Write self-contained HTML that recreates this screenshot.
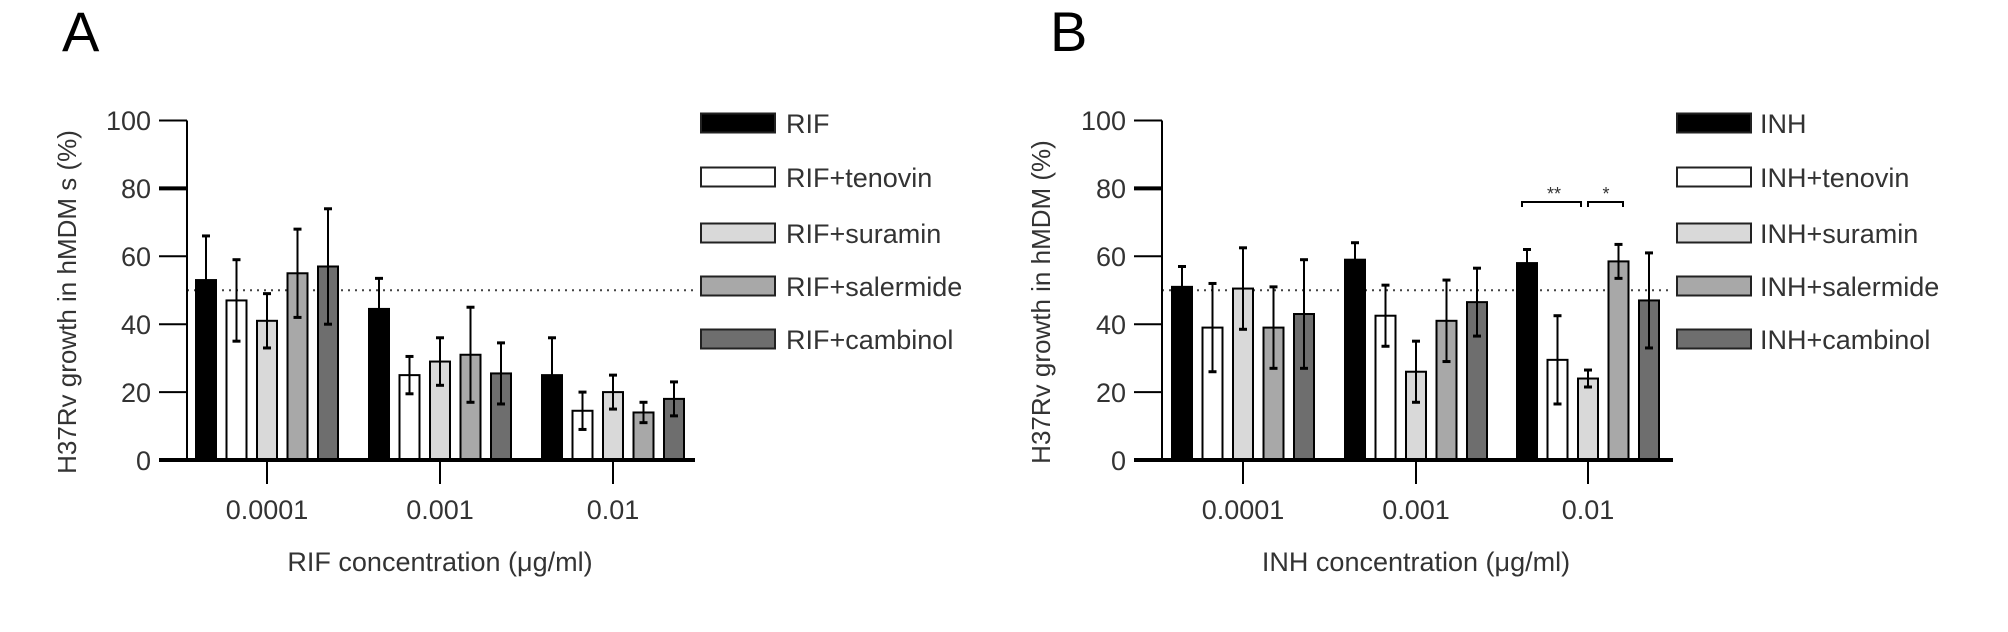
<!DOCTYPE html>
<html><head><meta charset="utf-8"><style>
html,body{margin:0;padding:0;background:#fff;}
svg{display:block;font-family:"Liberation Sans",sans-serif;}
</style></head><body>
<svg id="s" width="2008" height="632" viewBox="0 0 2008 632" xmlns="http://www.w3.org/2000/svg">
<rect width="2008" height="632" fill="#fff"/>
<text x="62" y="51" font-size="56">A</text>
<text x="1050" y="51" font-size="56">B</text>
<g id="bars"></g>
<g font-size="27" fill="#333">
<text x="151" y="130" text-anchor="end">100</text>
<text x="151" y="198" text-anchor="end">80</text>
<text x="151" y="266" text-anchor="end">60</text>
<text x="151" y="334" text-anchor="end">40</text>
<text x="151" y="402" text-anchor="end">20</text>
<text x="151" y="470" text-anchor="end">0</text>
<text x="267" y="519" text-anchor="middle">0.0001</text>
<text x="440" y="519" text-anchor="middle">0.001</text>
<text x="613" y="519" text-anchor="middle">0.01</text>
<text x="440" y="571" text-anchor="middle">RIF concentration (μg/ml)</text>
<text transform="translate(76,302) rotate(-90)" text-anchor="middle" font-size="26">H37Rv  growth in hMDM s  (%)</text>
<text x="786" y="133">RIF</text>
<text x="786" y="187">RIF+tenovin</text>
<text x="786" y="243">RIF+suramin</text>
<text x="786" y="296">RIF+salermide</text>
<text x="786" y="349">RIF+cambinol</text>
<text x="1126" y="130" text-anchor="end">100</text>
<text x="1126" y="198" text-anchor="end">80</text>
<text x="1126" y="266" text-anchor="end">60</text>
<text x="1126" y="334" text-anchor="end">40</text>
<text x="1126" y="402" text-anchor="end">20</text>
<text x="1126" y="470" text-anchor="end">0</text>
<text x="1243" y="519" text-anchor="middle">0.0001</text>
<text x="1416" y="519" text-anchor="middle">0.001</text>
<text x="1588" y="519" text-anchor="middle">0.01</text>
<text x="1416" y="571" text-anchor="middle">INH concentration (μg/ml)</text>
<text transform="translate(1050,302) rotate(-90)" text-anchor="middle" font-size="26">H37Rv  growth in hMDM  (%)</text>
<text x="1760" y="133">INH</text>
<text x="1760" y="187">INH+tenovin</text>
<text x="1760" y="243">INH+suramin</text>
<text x="1760" y="296">INH+salermide</text>
<text x="1760" y="349">INH+cambinol</text>
<text x="1554" y="200" text-anchor="middle" font-size="18">**</text>
<text x="1606" y="200" text-anchor="middle" font-size="18">*</text>
</g>
<path d="M1522,207 V202 H1581 V207 M1588,207 V202 H1623 V207" fill="none" stroke="#000" stroke-width="2"/>
</svg>
<script>
var g=document.getElementById('bars'),ns='http://www.w3.org/2000/svg';
function el(t,a){var e=document.createElementNS(ns,t);for(var k in a)e.setAttribute(k,a[k]);g.appendChild(e);return e;}
var cols=['#000','#fff','#d9d9d9','#a8a8a8','#6e6e6e'];
function Y(v){return 460-3.395*v;}
function panel(ax,xr,centers,data,legX){
  el('line',{x1:ax,y1:Y(50),x2:xr,y2:Y(50),stroke:'#444','stroke-width':2,'stroke-dasharray':'2,5'});
  for(var gi=0;gi<3;gi++){for(var k=0;k<5;k++){
    var c=centers[gi]+(k-2)*30.5,v=data[gi][k][0],e=data[gi][k][1];
    el('rect',{x:c-10,y:Y(v),width:20,height:460-Y(v),fill:cols[k],stroke:'#000','stroke-width':2});
    el('line',{x1:c,y1:Y(v+e),x2:c,y2:Y(v-e),stroke:'#000','stroke-width':2});
    el('line',{x1:c-4,y1:Y(v+e),x2:c+4,y2:Y(v+e),stroke:'#000','stroke-width':3});
    el('line',{x1:c-4,y1:Y(v-e),x2:c+4,y2:Y(v-e),stroke:'#000','stroke-width':3});
  }
  el('line',{x1:centers[gi],y1:460,x2:centers[gi],y2:484,stroke:'#000','stroke-width':2});}
  el('line',{x1:ax,y1:Y(100),x2:ax,y2:460,stroke:'#000','stroke-width':2});
  for(var t=0;t<=100;t+=20)el('line',{x1:ax-28,y1:Y(t),x2:ax,y2:Y(t),stroke:'#000','stroke-width':t==80?4:2});
  el('line',{x1:ax-28,y1:460,x2:xr,y2:460,stroke:'#000','stroke-width':4});
  var ly=[123,177,233,286,339];
  for(var k=0;k<5;k++)el('rect',{x:legX,y:ly[k]-9.5,width:74,height:19,fill:cols[k],stroke:'#222','stroke-width':2});
}
panel(187,695,[267,440,613],[
 [[53,13],[47,12],[41,8],[55,13],[57,17]],
 [[44.5,9],[25,5.5],[29,7],[31,14],[25.5,9]],
 [[25,11],[14.5,5.5],[20,5],[14,3],[18,5]]],701);
panel(1162,1673,[1243,1416,1588],[
 [[51,6],[39,13],[50.5,12],[39,12],[43,16]],
 [[59,5],[42.5,9],[26,9],[41,12],[46.5,10]],
 [[58,4],[29.5,13],[24,2.5],[58.5,5],[47,14]]],1677);
</script>
</body></html>
